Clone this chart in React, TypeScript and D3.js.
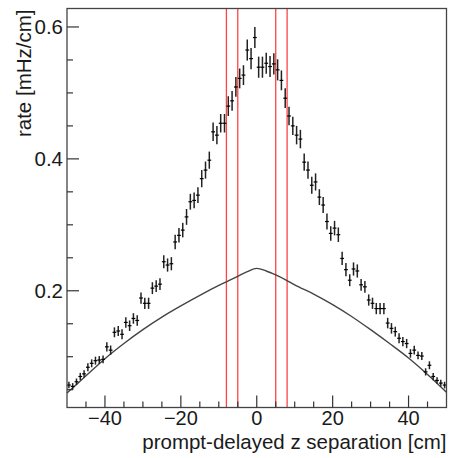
import React from "react";
import * as d3 from "d3";

// bin centres of the data histogram (1 cm bins)
const binCenters = d3.range(-49.5, 50, 1);

// measured rate per bin [mHz/cm]
const rateValues = [
  0.057, 0.055, 0.062, 0.07, 0.074, 0.084, 0.09, 0.094, 0.095, 0.096,
  0.115, 0.11, 0.137, 0.139, 0.134, 0.152, 0.147, 0.158, 0.155, 0.189,
  0.181, 0.181, 0.204, 0.207, 0.21, 0.244, 0.239, 0.241, 0.274, 0.284,
  0.292, 0.312, 0.335, 0.337, 0.345, 0.37, 0.383, 0.398, 0.441, 0.436,
  0.454, 0.454, 0.48, 0.488, 0.509, 0.522, 0.527, 0.565, 0.552, 0.584,
  0.539, 0.539, 0.545, 0.54, 0.544, 0.535, 0.519, 0.492, 0.465, 0.45,
  0.436, 0.43, 0.395, 0.383, 0.36, 0.365, 0.342, 0.33, 0.305, 0.287,
  0.295, 0.285, 0.249, 0.232, 0.216, 0.233, 0.23, 0.209, 0.206, 0.186,
  0.181, 0.173, 0.173, 0.173, 0.151, 0.143, 0.138, 0.128, 0.123, 0.12,
  0.105, 0.11, 0.102, 0.101, 0.077, 0.087, 0.07, 0.064, 0.06, 0.057,
];

// error per bin
const rateErrors = [
  0.005, 0.005, 0.005, 0.0055, 0.0055, 0.006, 0.006, 0.006, 0.006, 0.006,
  0.007, 0.007, 0.0075, 0.0075, 0.0075, 0.008, 0.008, 0.008, 0.008, 0.0085,
  0.0085, 0.0085, 0.009, 0.009, 0.009, 0.01, 0.01, 0.01, 0.011, 0.011,
  0.011, 0.012, 0.012, 0.012, 0.012, 0.013, 0.013, 0.013, 0.014, 0.014,
  0.014, 0.014, 0.015, 0.015, 0.015, 0.015, 0.015, 0.016, 0.016, 0.016,
  0.016, 0.016, 0.016, 0.016, 0.016, 0.016, 0.015, 0.015, 0.014, 0.014,
  0.014, 0.014, 0.013, 0.013, 0.013, 0.013, 0.012, 0.012, 0.012, 0.011,
  0.011, 0.011, 0.01, 0.01, 0.009, 0.01, 0.01, 0.009, 0.009, 0.0085,
  0.0085, 0.0085, 0.0085, 0.0085, 0.008, 0.008, 0.0075, 0.0075, 0.007, 0.007,
  0.0065, 0.0065, 0.006, 0.006, 0.0055, 0.006, 0.0055, 0.005, 0.005, 0.005,
];

// smooth expectation curve
const curveX = [-50, -45, -40, -35, -30, -25, -20, -15, -10, -7.5, -5, -2.5, 0, 2.5, 5, 7.5, 10, 15, 20, 25, 30, 35, 40, 45, 50];
const curveY = [0.045, 0.071, 0.097, 0.12, 0.141, 0.16, 0.177, 0.193, 0.208, 0.215, 0.222, 0.229, 0.234, 0.23, 0.224, 0.217, 0.209, 0.195, 0.179, 0.161, 0.141, 0.12, 0.098, 0.073, 0.046];

// vertical cut lines
const cutLines = [-8, -5, 5, 8];

const xMajor = [-40, -20, 0, 20, 40];
const yMajor = [0.2, 0.4, 0.6];

const W = 449;
const H = 458;
const left = 67;
const right = 446.5;
const top = 8.5;
const bottom = 407.5;

const font = "'Liberation Sans', Arial, Helvetica, sans-serif";

export default function App() {
  const x = d3.scaleLinear().domain([-50, 50]).range([left, right]);
  const y = d3.scaleLinear().domain([0.023, 0.628]).range([bottom, top]);

  const xMinor = d3.range(-45, 50, 5).filter((v) => !xMajor.includes(v));
  const yMinor = d3
    .range(0.05, 0.625, 0.05)
    .map((v) => Math.round(v * 100) / 100)
    .filter((v) => !yMajor.includes(v));

  const line = d3
    .line<number>()
    .x((_, i) => x(curveX[i]))
    .y((d) => y(d))
    .curve(d3.curveMonotoneX);

  const fmtX = (v: number) => (v < 0 ? "\u2212" + Math.abs(v) : String(v));

  return (
    <svg
      width={W}
      height={H}
      style={{ position: "absolute", left: 0, top: 0, background: "#fff" }}
      fontFamily={font}
    >
      <rect x={0} y={0} width={W} height={H} fill="#fff" />

      {/* cut lines */}
      {cutLines.map((c) => (
        <line
          key={c}
          x1={x(c)}
          x2={x(c)}
          y1={top}
          y2={bottom}
          stroke="#ff4444"
          strokeWidth={1.3}
        />
      ))}

      {/* expectation curve */}
      <path d={line(curveY) || ""} fill="none" stroke="#444" strokeWidth={1.4} />

      {/* data points */}
      {rateValues.map((v, i) => {
        const cx = x(binCenters[i]);
        const e = rateErrors[i];
        return (
          <g key={i}>
            <line x1={cx} x2={cx} y1={y(v - e)} y2={y(v + e)} stroke="#222" strokeWidth={1.5} />
            <line x1={x(binCenters[i] - 0.5)} x2={x(binCenters[i] + 0.5)} y1={y(v)} y2={y(v)} stroke="#000" strokeWidth={1.2} />
          </g>
        );
      })}

      {/* frame */}
      <rect x={left} y={top} width={right - left} height={bottom - top} fill="none" stroke="#444" strokeWidth={1.3} />

      {/* x ticks */}
      {xMajor.map((t) => (
        <g key={"xm" + t}>
          <line x1={x(t)} x2={x(t)} y1={bottom} y2={bottom - 12} stroke="#333" strokeWidth={1.2} />
          <text x={x(t)} y={425} textAnchor="middle" fontSize={20} fill="#1a1a1a">
            {fmtX(t)}
          </text>
        </g>
      ))}
      {xMinor.map((t) => (
        <line key={"xn" + t} x1={x(t)} x2={x(t)} y1={bottom} y2={bottom - 6} stroke="#333" strokeWidth={1.2} />
      ))}

      {/* y ticks */}
      {yMajor.map((t) => (
        <g key={"ym" + t}>
          <line x1={left} x2={left + 12} y1={y(t)} y2={y(t)} stroke="#333" strokeWidth={1.2} />
          <text x={63} y={y(t)} dy="0.36em" textAnchor="end" fontSize={20.5} fill="#1a1a1a">
            {t.toFixed(1)}
          </text>
        </g>
      ))}
      {yMinor.map((t) => (
        <line key={"yn" + t} x1={left} x2={left + 6} y1={y(t)} y2={y(t)} stroke="#333" strokeWidth={1.2} />
      ))}

      {/* axis titles */}
      <text x={right} y={449} textAnchor="end" fontSize={20.5} fill="#1a1a1a">
        prompt-delayed z separation [cm]
      </text>
      <text
        transform={`translate(31,${top + 1}) rotate(-90)`}
        textAnchor="end"
        fontSize={20.5}
        fill="#1a1a1a"
      >
        rate [mHz/cm]
      </text>
    </svg>
  );
}
